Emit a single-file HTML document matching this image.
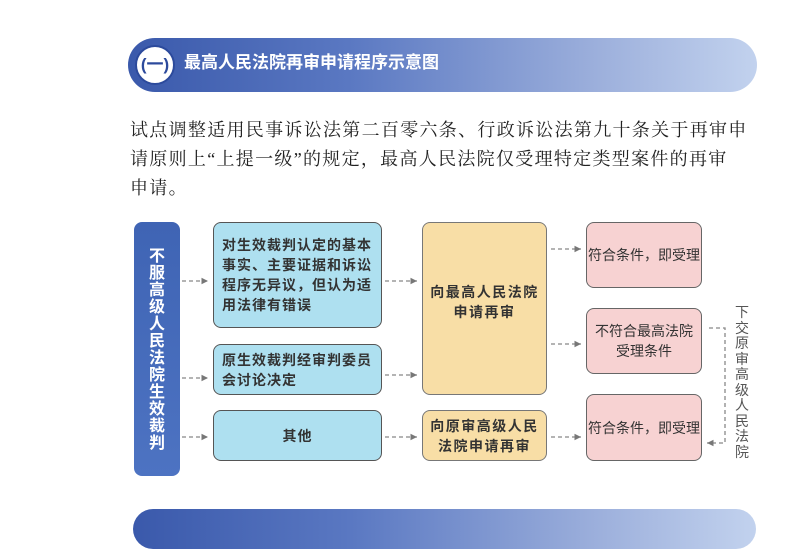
<!DOCTYPE html>
<html><head><meta charset="utf-8"><style>
body{margin:0;width:809px;height:517px;background:#fff;position:relative;overflow:hidden;font-family:"Liberation Sans","Noto Sans CJK SC",sans-serif}
.a{position:absolute;box-sizing:border-box}
.pill{left:128px;top:38px;width:629px;height:54px;border-radius:27px;background:linear-gradient(90deg,#3a59ab 0%,#5a78c2 35%,#9db0dc 75%,#c2d2ee 100%)}
.circ{left:135px;top:45px;width:40px;height:40px;border-radius:50%;background:#fff;border:2px solid #2c4a9c;color:#2c4a9c;font-weight:bold;font-size:17px;text-align:center;line-height:36px}
.title{left:184px;top:51px;color:#fff;font-weight:bold;font-size:17px;line-height:24px}
.para{left:130px;top:116px;white-space:nowrap;font-family:"Liberation Serif","Noto Serif CJK SC",serif;font-size:18px;letter-spacing:1.3px;line-height:29px;color:#222}
.blue{background:#aee0f0;border:1.5px solid #555;border-radius:8px;color:#333;font-weight:bold;font-size:14px;letter-spacing:1px;line-height:20px;padding:0 8px;display:flex;align-items:center}
.yel{background:#f8dea6;border:1.5px solid #777;border-radius:8px;color:#333;font-weight:bold;font-size:14px;letter-spacing:1.5px;line-height:20px;display:flex;align-items:center;justify-content:center;text-align:center}
.pink{background:#f7d2d2;border:1.5px solid #666;border-radius:8px;color:#333;font-size:14px;line-height:20px;display:flex;align-items:center;justify-content:center;text-align:center}
.left{left:134px;top:222px;width:46px;height:254px;border-radius:8px;background:linear-gradient(180deg,#3f64b4,#4d73c2);color:#fff;font-weight:bold;font-size:16px;line-height:17px;text-align:center;padding-top:26px}
.vt{left:734px;top:305px;width:16px;font-size:14px;line-height:15.5px;color:#555;text-align:center}
.bot{left:133px;top:509px;width:623px;height:40px;border-radius:20px;background:linear-gradient(90deg,#3a59ab 0%,#5a78c2 35%,#9db0dc 75%,#c2d2ee 100%)}
</style></head><body>
<div class="a pill"></div>
<div class="a circ">(一)</div>
<div class="a title">最高人民法院再审申请程序示意图</div>
<div class="a para">试点调整适用民事诉讼法第二百零六条、行政诉讼法第九十条关于再审申<br>请原则上“上提一级”的规定，最高人民法院仅受理特定类型案件的再审<br>申请。</div>

<div class="a left">不<br>服<br>高<br>级<br>人<br>民<br>法<br>院<br>生<br>效<br>裁<br>判</div>

<div class="a blue" style="left:213px;top:222px;width:169px;height:106px">对生效裁判认定的基本事实、主要证据和诉讼程序无异议，但认为适用法律有错误</div>
<div class="a blue" style="left:213px;top:344px;width:169px;height:51px">原生效裁判经审判委员会讨论决定</div>
<div class="a blue" style="left:213px;top:410px;width:169px;height:51px;justify-content:center">其他</div>

<div class="a yel" style="left:422px;top:222px;width:125px;height:173px;padding-bottom:14px">向最高人民法院<br>申请再审</div>
<div class="a yel" style="left:422px;top:410px;width:125px;height:51px">向原审高级人民<br>法院申请再审</div>

<div class="a pink" style="left:586px;top:222px;width:116px;height:66px">符合条件，即受理</div>
<div class="a pink" style="left:586px;top:308px;width:116px;height:66px">不符合最高法院<br>受理条件</div>
<div class="a pink" style="left:586px;top:394px;width:116px;height:67px">符合条件，即受理</div>

<div class="a vt">下<br>交<br>原<br>审<br>高<br>级<br>人<br>民<br>法<br>院</div>

<svg class="a" style="left:0;top:0" width="809" height="517">
<defs><marker id="m" markerWidth="6" markerHeight="6" refX="5" refY="3" orient="auto"><path d="M0,0.5 L5,3 L0,5.5 z" fill="#777"/></marker></defs>
<g stroke="#888" stroke-width="1.3" stroke-dasharray="4,3" fill="none" marker-end="url(#m)">
<line x1="182" y1="281" x2="208" y2="281"/>
<line x1="182" y1="378" x2="208" y2="378"/>
<line x1="182" y1="437" x2="208" y2="437"/>
<line x1="385" y1="281" x2="417" y2="281"/>
<line x1="385" y1="375" x2="417" y2="375"/>
<line x1="385" y1="437" x2="417" y2="437"/>
<line x1="551" y1="249" x2="581" y2="249"/>
<line x1="551" y1="344" x2="581" y2="344"/>
<line x1="551" y1="437" x2="581" y2="437"/>
<polyline points="709,328 725,328 725,443 707,443"/>
</g>
</svg>
<div class="a bot"></div>
</body></html>
